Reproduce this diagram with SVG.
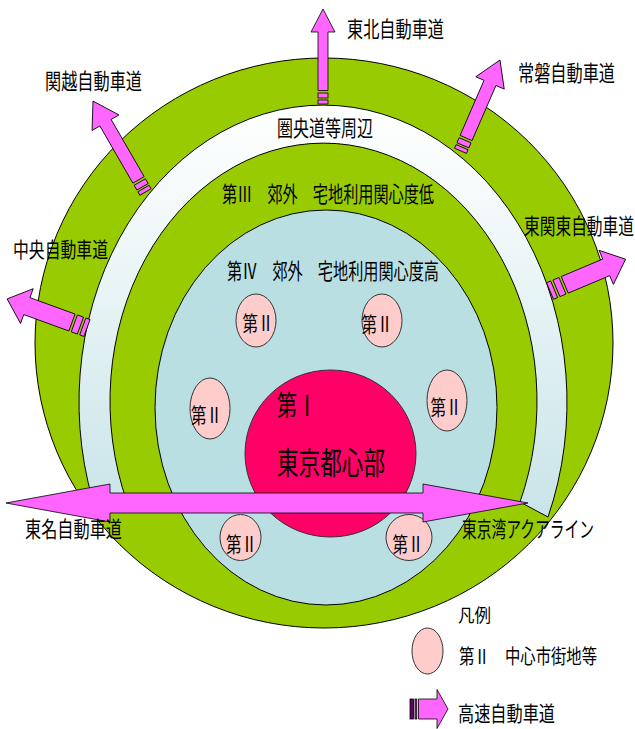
<svg xmlns="http://www.w3.org/2000/svg" width="635" height="729" viewBox="0 0 635 729">
<defs>
<linearGradient id="ringGrad" gradientUnits="userSpaceOnUse" x1="0" y1="103" x2="0" y2="520">
<stop offset="0" stop-color="#FFFFFF"/>
<stop offset="0.3" stop-color="#F1F8F9"/>
<stop offset="1" stop-color="#C8E4E8"/>
</linearGradient>
</defs>
<style>
.ln{stroke:#000;stroke-width:1}
.green{fill:#99CC00}
.lblue{fill:#B9DFE3}
.pink{fill:#FFCCCC;stroke:#333;stroke-width:1}
.core{fill:#FF0066;stroke:#333;stroke-width:1}
.arr{fill:#FF66FF;stroke:#000;stroke-width:0.8;stroke-linejoin:miter}
.t{font-family:"Noto Sans CJK JP","Noto Sans CJK SC",sans-serif;fill:#000}
</style>
<rect width="635" height="729" fill="#FFFFFF"/>

<g id="zone-outer">
<ellipse class="green ln" cx="324" cy="343" rx="289" ry="285"/>
</g>
<g id="ring-kenodo">
<path d="M548,517 A244,297 0 1 0 98,517 L127,502 A213.5,258 0 1 1 520,502 Z" fill="url(#ringGrad)" class="ln"/>
</g>
<g id="zone-4">
<ellipse class="lblue ln" cx="326" cy="407.5" rx="171" ry="197.5"/>
</g>
<g id="zone-1">
<ellipse class="core" cx="330.5" cy="453.5" rx="85.5" ry="83.5"/>
</g>
<g id="zone-2">
<ellipse class="pink" cx="256" cy="320.5" rx="20" ry="26.5"/>
<ellipse class="pink" cx="382" cy="320.5" rx="20" ry="26.5"/>
<ellipse class="pink" cx="210" cy="408.5" rx="20" ry="30.5"/>
<ellipse class="pink" cx="447" cy="400.5" rx="20" ry="30.5"/>
<ellipse class="pink" cx="240.5" cy="537.5" rx="20.5" ry="23"/>
<ellipse class="pink" cx="409" cy="537.5" rx="23" ry="23"/>
</g>

<g id="highways">
<path class="arr" d="M6,503 L110,484 V493 H423 V484 L528,503 L423,522 V513 H110 V522 Z"/>
<g transform="translate(323,104) rotate(-90)">
<rect class="arr" x="0" y="-5" width="4" height="10"/>
<rect class="arr" x="6" y="-5" width="5" height="10"/>
<path class="arr" d="M13.5,-5 H72 V-12 L95,0 L72,12 V5 H13.5 Z"/>
</g>
<g transform="translate(145.5,192) rotate(-120)">
<rect class="arr" x="0" y="-6.5" width="4" height="13"/>
<rect class="arr" x="6" y="-6.5" width="5.5" height="13"/>
<path class="arr" d="M14,-6.5 H80 V-15.5 L105,0 L80,15.5 V6.5 H14 Z"/>
</g>
<g transform="translate(460.5,150.8) rotate(-66.5)">
<rect class="arr" x="0" y="-6.5" width="4" height="13"/>
<rect class="arr" x="6" y="-6.5" width="5.5" height="13"/>
<path class="arr" d="M14,-6.5 H74 V-15.5 L99,0 L74,15.5 V6.5 H14 Z"/>
</g>
<g transform="translate(87,328) rotate(-160)">
<rect class="arr" x="0" y="-9" width="4.5" height="18"/>
<rect class="arr" x="7" y="-9" width="6.5" height="18"/>
<path class="arr" d="M16,-9 H64 V-18.5 L85,0 L64,18.5 V9 H16 Z"/>
</g>
<g transform="translate(550,291) rotate(-22.8)">
<rect class="arr" x="0" y="-9" width="4.5" height="18"/>
<rect class="arr" x="7" y="-9" width="6.5" height="18"/>
<path class="arr" d="M16,-9 H61 V-18.5 L82,0 L61,18.5 V9 H16 Z"/>
</g>
</g>

<g id="labels">
<text class="t" x="347" y="37" font-size="22" textLength="97" lengthAdjust="spacingAndGlyphs">東北自動車道</text>
<text class="t" x="518" y="81" font-size="22" textLength="97" lengthAdjust="spacingAndGlyphs">常磐自動車道</text>
<text class="t" x="45" y="89" font-size="22" textLength="97" lengthAdjust="spacingAndGlyphs">関越自動車道</text>
<text class="t" x="277" y="136" font-size="22" textLength="96" lengthAdjust="spacingAndGlyphs">圏央道等周辺</text>
<text class="t" x="222" y="202" font-size="22" textLength="212" lengthAdjust="spacingAndGlyphs">第Ⅲ　郊外　宅地利用関心度低</text>
<text class="t" x="524" y="234" font-size="22" textLength="110" lengthAdjust="spacingAndGlyphs">東関東自動車道</text>
<text class="t" x="13" y="257" font-size="21" textLength="95" lengthAdjust="spacingAndGlyphs">中央自動車道</text>
<text class="t" x="227" y="279" font-size="22" textLength="212" lengthAdjust="spacingAndGlyphs">第Ⅳ　郊外　宅地利用関心度高</text>
<text class="t" x="277" y="416" font-size="28" textLength="40" lengthAdjust="spacingAndGlyphs">第Ⅰ</text>
<text class="t" x="277" y="474" font-size="31" textLength="108" lengthAdjust="spacingAndGlyphs">東京都心部</text>
<text class="t" x="25" y="537" font-size="22" textLength="97" lengthAdjust="spacingAndGlyphs">東名自動車道</text>
<text class="t" x="462" y="537" font-size="22" textLength="132" lengthAdjust="spacingAndGlyphs">東京湾アクアライン</text>
<g text-anchor="middle">
<text class="t" x="258" y="331" font-size="21" textLength="31" lengthAdjust="spacingAndGlyphs">第Ⅱ</text>
<text class="t" x="377" y="332" font-size="21" textLength="31" lengthAdjust="spacingAndGlyphs">第Ⅱ</text>
<text class="t" x="206.5" y="423" font-size="21" textLength="31" lengthAdjust="spacingAndGlyphs">第Ⅱ</text>
<text class="t" x="446" y="415" font-size="21" textLength="31" lengthAdjust="spacingAndGlyphs">第Ⅱ</text>
<text class="t" x="241.5" y="552" font-size="21" textLength="31" lengthAdjust="spacingAndGlyphs">第Ⅱ</text>
<text class="t" x="408" y="552" font-size="21" textLength="31" lengthAdjust="spacingAndGlyphs">第Ⅱ</text>
</g>
</g>

<g id="legend">
<text class="t" x="458" y="622" font-size="18" textLength="33" lengthAdjust="spacingAndGlyphs">凡例</text>
<ellipse class="pink" cx="427.5" cy="651" rx="15.5" ry="23"/>
<text class="t" x="459" y="664" font-size="20" textLength="138" lengthAdjust="spacingAndGlyphs">第Ⅱ　中心市街地等</text>
<g transform="translate(410,709)">
<rect x="0" y="-10" width="3.5" height="20" fill="#660066" stroke="#000" stroke-width="0.8"/>
<rect x="5" y="-10" width="1.8" height="20" fill="#993399" stroke="#000" stroke-width="0.8"/>
<path class="arr" d="M8.5,-10 H27 V-19.5 L38,0 L27,19.5 V10 H8.5 Z"/>
</g>
<text class="t" x="458" y="721" font-size="21" textLength="97" lengthAdjust="spacingAndGlyphs">高速自動車道</text>
</g>
</svg>
